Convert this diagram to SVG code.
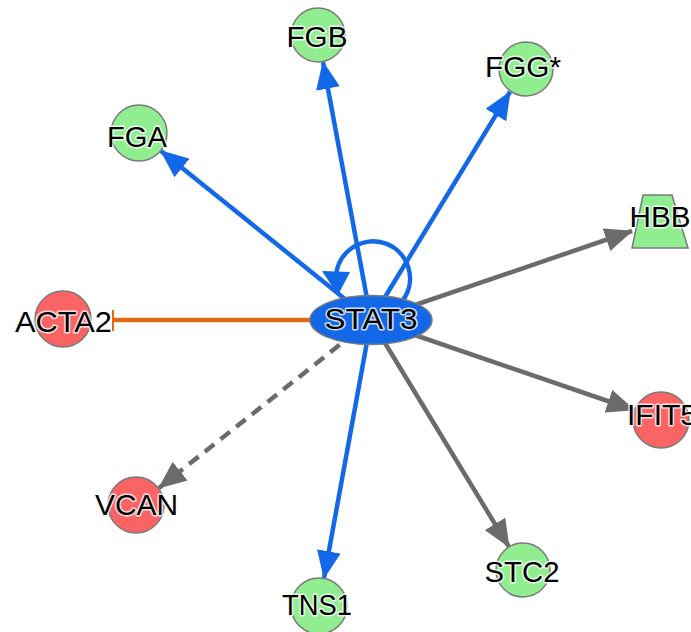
<svg xmlns="http://www.w3.org/2000/svg" width="691" height="632" viewBox="0 0 691 632">
<style>
.blue{stroke:#1268e6;stroke-width:4.5;fill:none}
.gray{stroke:#6b6b6b;stroke-width:4.5;fill:none}
.orange{stroke:#e2690f;stroke-width:4.5;fill:none}
.green{fill:#90ee90;stroke:#7a7a7a;stroke-width:1.5}
.red{fill:#fa6464;stroke:#7a7a7a;stroke-width:1.5}
.lbl{font-family:"Liberation Sans",Arial,sans-serif;font-size:29px;fill:#000;stroke:#fff;stroke-width:3;stroke-opacity:0.8;paint-order:stroke;text-anchor:middle;stroke-linejoin:round}
</style>
<defs>
<marker id="ab" viewBox="0 0 28 24" refX="27" refY="12" markerWidth="28" markerHeight="24" markerUnits="userSpaceOnUse" orient="auto"><path d="M0,0 L28,12 L0,24 Z" fill="#1268e6"/></marker>
<marker id="ag" viewBox="0 0 28 24" refX="27" refY="12" markerWidth="28" markerHeight="24" markerUnits="userSpaceOnUse" orient="auto"><path d="M0,0 L28,12 L0,24 Z" fill="#6b6b6b"/></marker>
</defs>
<rect width="691" height="632" fill="#fff"/>
<g id="connectors">
<line class="blue" x1="371" y1="320" x2="161" y2="151" marker-end="url(#ab)"/>
<line class="blue" x1="371" y1="320" x2="323" y2="62" marker-end="url(#ab)"/>
<line class="blue" x1="371" y1="320" x2="510" y2="92" marker-end="url(#ab)"/>
<line class="gray" x1="371" y1="320" x2="632" y2="231" marker-end="url(#ag)"/>
<line class="gray" x1="371" y1="320" x2="634" y2="410" marker-end="url(#ag)"/>
<line class="gray" x1="371" y1="320" x2="509" y2="547" marker-end="url(#ag)"/>
<line class="blue" x1="371" y1="320" x2="324" y2="578" marker-end="url(#ab)"/>
<line class="gray" x1="371" y1="320" x2="159" y2="488" stroke-dasharray="12 8" marker-end="url(#ag)"/>
<line class="orange" x1="371" y1="320" x2="113" y2="320"/>
<line x1="113" y1="310" x2="113" y2="331" stroke="#e2690f" stroke-width="2"/>
<path class="blue" d="M403,300 A37,37 0 1 0 336,278"/>
<polygon points="322,271 350,272 338,295" fill="#1268e6"/>
</g>
<g id="STAT3"><ellipse cx="371" cy="320" rx="61" ry="24.5" fill="#1268e6" stroke="#7a7a7a" stroke-width="1.5"/><text class="lbl" x="371" y="329" textLength="93" lengthAdjust="spacingAndGlyphs">STAT3</text></g>
<g id="FGA"><circle class="green" cx="139" cy="133" r="28"/><text class="lbl" x="137" y="147" textLength="60" lengthAdjust="spacingAndGlyphs">FGA</text></g>
<g id="FGB"><circle class="green" cx="318" cy="35" r="27"/><text class="lbl" x="317" y="47" textLength="61" lengthAdjust="spacingAndGlyphs">FGB</text></g>
<g id="FGG"><circle class="green" cx="526" cy="69" r="27"/><text class="lbl" x="523" y="77" textLength="76" lengthAdjust="spacingAndGlyphs">FGG*</text></g>
<g id="HBB"><polygon class="green" points="643,195 672,195 688,248 632,248"/><text class="lbl" x="660" y="227" textLength="61" lengthAdjust="spacingAndGlyphs">HBB</text></g>
<g id="IFIT5"><circle class="red" cx="661" cy="420" r="28"/><text class="lbl" x="662" y="425" textLength="70" lengthAdjust="spacingAndGlyphs">IFIT5</text></g>
<g id="ACTA2"><circle class="red" cx="63" cy="319" r="28"/><text class="lbl" x="63.5" y="332" textLength="97" lengthAdjust="spacingAndGlyphs">ACTA2</text></g>
<g id="VCAN"><circle class="red" cx="136" cy="505" r="28"/><text class="lbl" x="136.5" y="515" textLength="83" lengthAdjust="spacingAndGlyphs">VCAN</text></g>
<g id="STC2"><circle class="green" cx="523" cy="570" r="27"/><text class="lbl" x="522" y="582" textLength="75" lengthAdjust="spacingAndGlyphs">STC2</text></g>
<g id="TNS1"><circle class="green" cx="319" cy="606" r="28"/><text class="lbl" x="317" y="615" textLength="70" lengthAdjust="spacingAndGlyphs">TNS1</text></g>
</svg>
